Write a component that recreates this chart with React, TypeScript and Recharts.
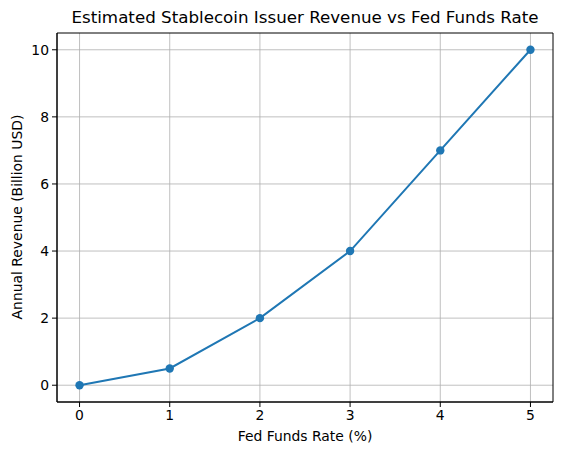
import React from 'react'
import {
  LineChart,
  Line,
  XAxis,
  YAxis,
  CartesianGrid,
  ReferenceArea,
} from 'recharts'

// Fed funds rate (%) vs estimated revenue (billion USD)
const rates = [0, 1, 2, 3, 4, 5]
const revenue = [0, 0.5, 2, 4, 7, 10]
const xTicks = [0, 1, 2, 3, 4, 5]
const yTicks = [0, 2, 4, 6, 8, 10]

const data = rates.map((r, i) => ({ rate: r, revenue: revenue[i] }))

const FONT = '"DejaVu Sans", sans-serif'
const BLUE = '#1f77b4'

const tickStyle = { fontSize: 13.9, fill: '#000', fontFamily: FONT }

export default function App() {
  return (
    <div style={{ position: 'absolute', left: 0, top: 0, width: 562, height: 455, background: '#fff', fontFamily: FONT }}>
      <div style={{ position: 'absolute', left: 57, width: 496, top: 7, textAlign: 'center', fontSize: 16.7, color: '#000', whiteSpace: 'nowrap' }}>
        Estimated Stablecoin Issuer Revenue vs Fed Funds Rate
      </div>
      <LineChart width={562} height={455} data={data} margin={{ top: 33, right: 9, left: 12, bottom: 23 }}>
        <CartesianGrid stroke="#b0b0b0" strokeWidth={0.8} verticalValues={xTicks} horizontalValues={yTicks} />
        <XAxis
          dataKey="rate"
          type="number"
          domain={[-0.25, 5.25]}
          ticks={xTicks}
          allowDataOverflow
          height={30}
          tickSize={5}
          tickMargin={3}
          tick={tickStyle}
          axisLine={{ stroke: '#000' }}
          tickLine={{ stroke: '#000' }}
        />
        <YAxis
          type="number"
          domain={[-0.5, 10.5]}
          ticks={yTicks}
          allowDataOverflow
          width={45}
          tickSize={5}
          tickMargin={3}
          tick={tickStyle}
          axisLine={{ stroke: '#000' }}
          tickLine={{ stroke: '#000' }}
        />
        <ReferenceArea x1={-0.25} x2={5.25} y1={-0.5} y2={10.5} fill="none" stroke="#000" strokeWidth={1} ifOverflow="visible" />
        <Line
          dataKey="revenue"
          stroke={BLUE}
          strokeWidth={2}
          dot={{ r: 4.2, fill: BLUE, stroke: BLUE, strokeWidth: 0 }}
          activeDot={false}
          isAnimationActive={false}
        />
      </LineChart>
      <div style={{ position: 'absolute', left: 57, width: 496, top: 428, textAlign: 'center', fontSize: 13.9, color: '#000', whiteSpace: 'nowrap' }}>
        Fed Funds Rate (%)
      </div>
      <div
        style={{
          position: 'absolute',
          left: 17,
          top: 217,
          transform: 'translate(-50%, -50%) rotate(-90deg)',
          fontSize: 13.9,
          color: '#000',
          whiteSpace: 'nowrap',
        }}
      >
        Annual Revenue (Billion USD)
      </div>
    </div>
  )
}
